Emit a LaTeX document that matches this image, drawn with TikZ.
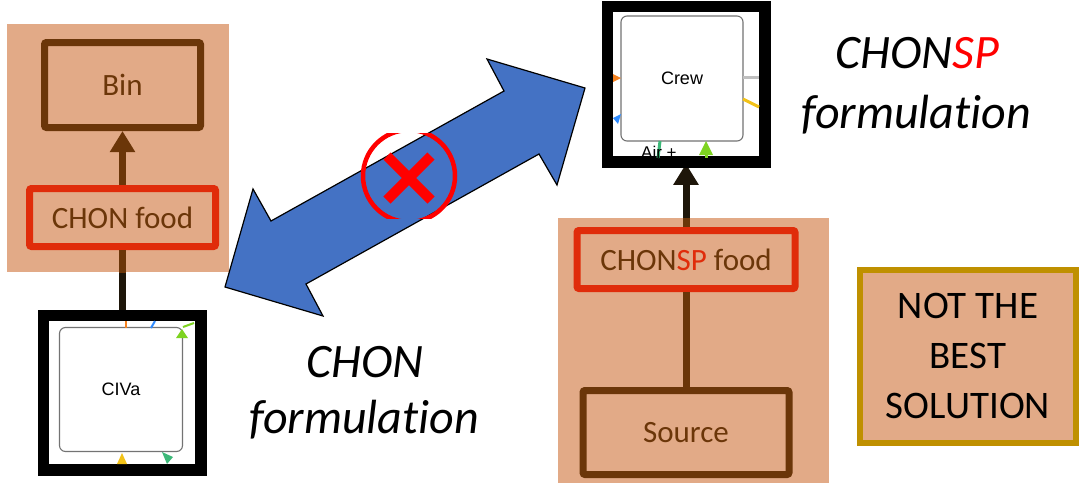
\documentclass[tikz,border=0pt]{standalone}
\usepackage{fontspec}
\setmainfont{Carlito}[Ligatures={NoCommon}]
\newfontfamily\helv{Liberation Sans}
\usetikzlibrary{arrows.meta,shadows}
\definecolor{tanbg}{HTML}{E2AA87}
\definecolor{boxbrown}{HTML}{6B3609}
\definecolor{boxred}{HTML}{E02C0A}
\definecolor{darkflow}{HTML}{1E160A}
\definecolor{arrowblue}{HTML}{4472C4}
\definecolor{goldline}{HTML}{BF9000}
\definecolor{tickorange}{HTML}{F58220}
\definecolor{tickblue}{HTML}{2E8BFF}
\definecolor{tickgreen}{HTML}{7ED321}
\definecolor{tickteal}{HTML}{3CB878}
\definecolor{tickyellow}{HTML}{F2C218}
\tikzset{
  brownbox/.style={draw=boxbrown,line width=7pt,rounded corners=2pt,inner sep=0pt,
    text=boxbrown,font=\fontsize{31}{37}\selectfont},
  redbox/.style={brownbox,draw=boxred},
  blackframe/.style={draw=black,fill=white,line width=7.5pt,inner sep=0pt,
    drop shadow={shadow xshift=3pt,shadow yshift=-4pt,opacity=0.3,fill=black}},
  innerbox/.style={draw=black!55,fill=white,line width=1.1pt,rounded corners=6pt,inner sep=0pt,
    minimum width=123pt,minimum height=124pt,font=\helv\fontsize{18}{21}\selectfont},
  flow/.style={line width=7pt},
  bigtext/.style={anchor=base,font=\itshape\fontsize{48}{58}\selectfont}
}
\begin{document}
\begin{tikzpicture}[x=1pt,y=-1pt]
\fill[white] (0,0) rectangle (1079,483);
\useasboundingbox (0,0) rectangle (1079,483);
\fill[tanbg] (7,24) rectangle (229,272);
\fill[tanbg] (558,218) rectangle (829,483);

\node[brownbox,minimum width=156pt,minimum height=85pt] (bin) at (122.5,85) {Bin};
\node[redbox,minimum width=186pt,minimum height=58pt] (chonfood) at (122.5,217.5) {CHON food};
\node[blackframe,minimum width=154pt,minimum height=151pt] (civa) at (122,392.5) {};
\node[innerbox] (civain) at (121,389.5) {CIVa};

\node[blackframe,minimum width=154pt,minimum height=152pt] (crew) at (686,84) {};
\node[innerbox,minimum width=122pt,minimum height=125pt] (crewin) at (682,78.5) {Crew};
\node[redbox,minimum width=218pt,minimum height=58pt] (chonspfood) at (686,259.5) {CHON\textcolor{boxred}{SP} food};
\node[brownbox,minimum width=206pt,minimum height=84pt] (source) at (686,432.5) {Source};

\node[draw=goldline,fill=tanbg,line width=6pt,inner sep=0pt,minimum width=216pt,minimum height=173pt,
  align=center,font=\fontsize{39}{50}\selectfont] (notbest) at (968,356) {NOT THE\\BEST\\SOLUTION};

\draw[flow,boxbrown,-{Triangle[width=24pt,length=21pt]}] (chonfood) -- (bin);
\draw[flow,darkflow] (chonfood.south) -- (chonfood.south |- civa.north);
\begin{scope}
\clip (7,24) rectangle (229,272);
\draw[flow,boxbrown] (chonfood.south) -- (chonfood.south |- civa.north);
\end{scope}
\draw[flow,darkflow,-{Triangle[width=24pt,length=21pt]}] (chonspfood) -- (crew);
\begin{scope}
\clip (558,218) rectangle (829,483);
\draw[flow,boxbrown] (chonspfood.north) -- (crew.south);
\end{scope}
\draw[flow,boxbrown] (chonspfood) -- (source);

\draw[tickorange,line width=2pt] (126,321) -- (126,328);
\draw[tickblue,line width=2pt] (155,321) -- (151,328);
\draw[tickgreen,line width=2pt] (194,323) -- (183,327);
\fill[tickgreen] (176,338) -- (188,338) -- (182,329) -- cycle;
\fill[tickyellow] (117,464) -- (127,464) -- (122,453) -- cycle;
\fill[tickteal] (162,452) -- (173,457) -- (167,464) -- cycle;
\draw[line width=7.5pt] (civa.south west) rectangle (civa.north east);

\fill[tickorange] (613,74) -- (613,82) -- (621,78) -- cycle;
\fill[tickblue] (613,118) -- (621,114) -- (618,124) -- cycle;
\draw[black!25,line width=3pt] (743,77) -- (759,77);
\draw[tickyellow,line width=3pt] (743,99) -- (759,107);
\draw[tickteal,line width=3pt] (660,141) -- (658,158);
\draw[tickgreen,line width=3pt] (706,148) -- (706,158);
\fill[tickgreen] (699,155) -- (713,155) -- (706,141) -- cycle;
\node[anchor=base west,inner sep=0pt,font=\helv\fontsize{17}{20}\selectfont] (airtext) at (641,158) {Air +};
\draw[line width=7.5pt] (crew.south west) rectangle (crew.north east);

\draw[fill=arrowblue,line width=1.2pt,line join=miter] (225,287) -- (253,189) -- (271,221) -- (504,91) -- (487,59)
  -- (585,88) -- (557,185) -- (539,154) -- (306,284) -- (323,316) -- cycle;

\begin{scope}
\clip (350,133) rectangle (470,218);
\draw[red,line width=4.5pt] (409,176) circle [radius=46];
\end{scope}
\draw[red,line width=10pt] (387,156) -- (431,200);
\draw[red,line width=10pt] (431,156) -- (387,200);

\node[bigtext] (righttop) at (917,68) {CHON\textcolor{red}{SP}};
\node[bigtext] (rightbot) at (916,128) {formulation};
\node[bigtext] (lefttop) at (365,377) {CHON};
\node[bigtext] (leftbot) at (364,433) {formulation};
\end{tikzpicture}
\end{document}
